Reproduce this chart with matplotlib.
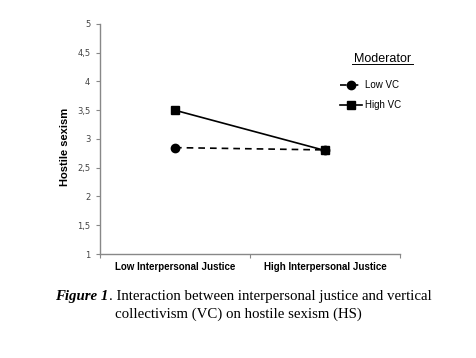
import matplotlib
matplotlib.use("Agg")
import matplotlib.pyplot as plt
from matplotlib.lines import Line2D

categories = ["Low Interpersonal Justice", "High Interpersonal Justice"]
low_vc = [2.85, 2.81]
high_vc = [3.5, 2.80]
yticks = [1, 1.5, 2, 2.5, 3, 3.5, 4, 4.5, 5]
ytick_labels = ["1", "1,5", "2", "2,5", "3", "3,5", "4", "4,5", "5"]

fig = plt.figure(figsize=(4.77, 3.58), dpi=100)
ax = fig.add_axes([0.2096, 0.2905, 0.629, 0.6425])

x = list(range(len(categories)))
ax.plot(x, low_vc, color="black", linestyle=(0, (4, 3)), linewidth=1.2,
        marker="o", markersize=6, label="Low VC")
ax.plot(x, high_vc, color="black", linestyle="-", linewidth=1.2,
        marker="s", markersize=6, label="High VC")

ax.set_xlim(-0.5, 1.5)
ax.set_ylim(1, 5)
ax.set_yticks(yticks)
ax.set_yticklabels(ytick_labels, fontsize=6, color="#444444", family="DejaVu Sans")
ax.set_xticks([-0.5, 0.5, 1.5])
ax.set_xticklabels([])
ax.set_xticks(x, minor=True)
ax.set_xticklabels(categories, minor=True, fontsize=7, fontweight="bold",
                   family="Liberation Sans")
ax.tick_params(axis="x", which="minor", length=0, pad=6)
ax.tick_params(axis="x", which="major", length=3, color="#888888", direction="out")
ax.tick_params(axis="y", length=3, color="#888888", direction="out", pad=4)

for s in ["top", "right"]:
    ax.spines[s].set_visible(False)
for s in ["left", "bottom"]:
    ax.spines[s].set_color("#888888")
    ax.spines[s].set_linewidth(1.0)

ax.set_ylabel("Hostile sexism", fontsize=8, fontweight="bold", family="Liberation Sans")
ax.yaxis.set_label_coords(-0.1, 0.465)

leg = fig.legend(loc="upper left", bbox_to_anchor=(0.695, 0.80), frameon=False,
                 handlelength=2.2, handletextpad=0.3, labelspacing=1.0,
                 prop={"family": "Liberation Sans", "size": 7})
fig.text(0.802, 0.828, "Moderator", fontsize=9, family="Liberation Sans",
         ha="center", va="baseline")
fig.add_artist(Line2D([0.738, 0.866], [0.822, 0.822], color="black", linewidth=0.7,
                      transform=fig.transFigure))

t1 = fig.text(0.116, 0.163, "Figure 1", fontsize=10.7, family="Liberation Serif",
              fontstyle="italic", fontweight="bold")
ax.annotate(". Interaction between interpersonal justice and vertical",
            xy=(1, 0), xycoords=t1, ha="left", va="bottom",
            fontsize=10.7, family="Liberation Serif", annotation_clip=False)
fig.text(0.5, 0.111, "collectivism (VC) on hostile sexism (HS)",
         ha="center", fontsize=10.7, family="Liberation Serif")

fig.savefig("out.png", dpi=100)
